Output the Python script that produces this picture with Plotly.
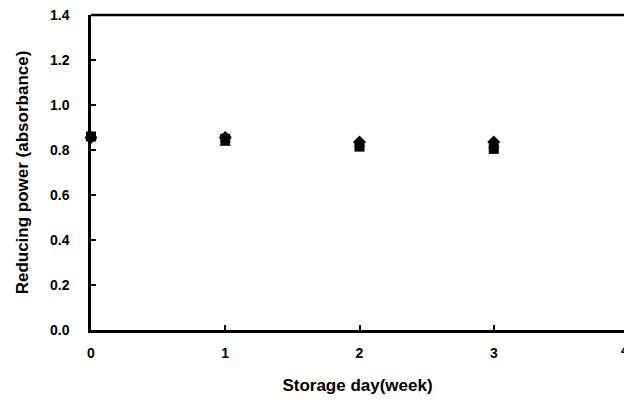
import plotly.graph_objects as go

weeks = [0, 1, 2, 3]
series_square = [0.86, 0.85, 0.815, 0.805]
series_triangle = [0.855, 0.83, 0.825, 0.82]
series_diamond = [0.855, 0.855, 0.835, 0.835]

x_ticks = [0, 1, 2, 3]
y_ticks = [0.0, 0.2, 0.4, 0.6, 0.8, 1.0, 1.2, 1.4]

font_family = "Liberation Sans, Arial, sans-serif"

fig = go.Figure()
for vals, sym, size in [
    (series_triangle, "triangle-up", 10),
    (series_diamond, "diamond", 10),
    (series_square, "square", 10),
]:
    fig.add_trace(go.Scatter(
        x=weeks, y=vals, mode="markers",
        marker=dict(symbol=sym, size=size, color="black", line=dict(width=0)),
        showlegend=False, cliponaxis=False,
    ))

fig.update_xaxes(
    range=[0, 3.97], tickvals=x_ticks, ticktext=[f"<b>{v}</b>" for v in x_ticks],
    showline=True, linecolor="black", linewidth=2.5,
    ticks="inside", ticklen=5, tickwidth=1.5, tickcolor="black",
    ticklabelstandoff=8,
    showgrid=False, zeroline=False,
    tickfont=dict(family=font_family, size=14, color="black"),
    title=dict(text="<b>Storage day(week)</b>", font=dict(family=font_family, size=17, color="black"), standoff=20),
)
fig.update_yaxes(
    range=[0, 1.4], tickvals=y_ticks, ticktext=[f"<b>{v:.1f}</b>" for v in y_ticks],
    showline=True, linecolor="black", linewidth=2.5,
    ticks="inside", ticklen=5, tickwidth=1.5, tickcolor="black",
    ticklabelstandoff=16,
    showgrid=False, zeroline=False,
    tickfont=dict(family=font_family, size=14, color="black"),
    title=dict(text="<b>Reducing power (absorbance)</b>", font=dict(family=font_family, size=17, color="black"), standoff=18),
)

# top frame line
fig.add_shape(type="line", xref="paper", yref="paper", x0=0, x1=1, y0=1, y1=1,
              line=dict(color="black", width=2.5))
# the "4" tick label sits right at the figure's edge
fig.add_annotation(x=1, xref="paper", y=0, yref="paper", xanchor="left", xshift=-5,
                   yanchor="middle", yshift=-20, text="<b>4</b>",
                   showarrow=False, font=dict(family=font_family, size=14, color="black"))

fig.update_layout(
    width=624, height=405,
    margin=dict(l=91, r=0, t=15, b=75),
    paper_bgcolor="white", plot_bgcolor="white",
)
fig.write_html("out.html")
